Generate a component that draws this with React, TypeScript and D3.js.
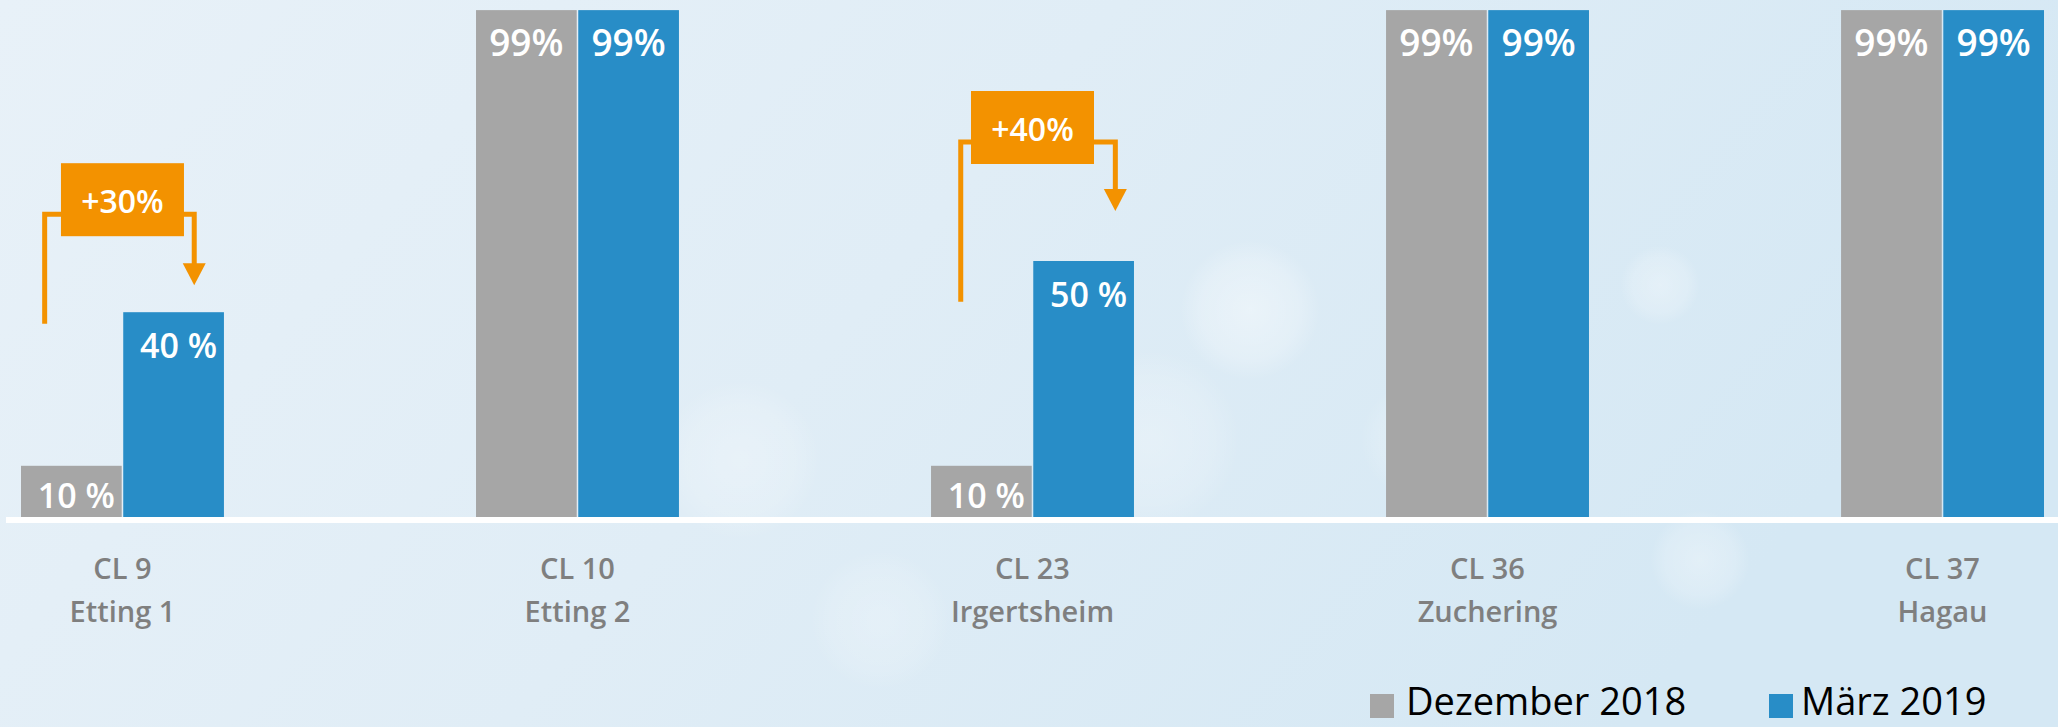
import React from "react";
import * as d3 from "d3";

const categories = ["CL 9", "CL 10", "CL 23", "CL 36", "CL 37"];
const places = ["Etting 1", "Etting 2", "Irgertsheim", "Zuchering", "Hagau"];
const seriesNames = ["Dezember 2018", "März 2019"];
const dec2018 = [10, 99, 10, 99, 99];
const mar2019 = [40, 99, 50, 99, 99];
const valueLabels2018 = ["10 %", "99%", "10 %", "99%", "99%"];
const valueLabels2019 = ["40 %", "99%", "50 %", "99%", "99%"];
// change callouts: category index, label
const callouts = [
  { cat: 0, label: "+30%" },
  { cat: 2, label: "+40%" },
];

const colors = ["#a6a6a6", "#288dc7"];
const orange = "#f39200";
const FONT = "'Open Sans', 'Noto Sans', sans-serif";

const W = 2058;
const H = 727;

// hand-tuned placement of the two callouts (px offsets, fractions of bar width)
const calloutLayout = [
  { lift: 149, lineGap: 142, tipGap: 27, lx: 0.235, ax: 0.705 },
  { lift: 170, lineGap: 164, tipGap: 50, lx: 0.295, ax: 0.815 },
];

const blobs = [
  { cx: 1250, cy: 310, r: 70, o: 0.45 },
  { cx: 1660, cy: 285, r: 40, o: 0.35 },
  { cx: 740, cy: 460, r: 80, o: 0.3 },
  { cx: 1150, cy: 440, r: 90, o: 0.3 },
  { cx: 1700, cy: 560, r: 50, o: 0.35 },
  { cx: 880, cy: 620, r: 70, o: 0.25 },
  { cx: 1420, cy: 440, r: 60, o: 0.25 },
  { cx: 1960, cy: 170, r: 60, o: 0.3 },
];

export default function App() {
  const x = d3
    .scaleBand<string>()
    .domain(categories)
    .range([21, 2044])
    .paddingInner(0.554)
    .paddingOuter(0);
  const xs = d3
    .scaleBand<string>()
    .domain(seriesNames)
    .range([0, x.bandwidth()])
    .paddingInner(0.015);
  const y = d3.scaleLinear().domain([0, 100]).range([517, 5]);
  const base = y(0);
  const bw = xs.bandwidth();

  const seriesData = [dec2018, mar2019];
  const seriesLabels = [valueLabels2018, valueLabels2019];

  return (
    <svg
      width={W}
      height={H}
      style={{ position: "absolute", left: 0, top: 0, fontFamily: FONT }}
    >
      <defs>
        <linearGradient id="bg" x1="0" y1="0" x2="1" y2="0.3">
          <stop offset="0" stopColor="#e8f1f8" />
          <stop offset="0.5" stopColor="#e0edf6" />
          <stop offset="1" stopColor="#d5e8f4" />
        </linearGradient>
        <radialGradient id="blob">
          <stop offset="0" stopColor="#ffffff" stopOpacity="0.9" />
          <stop offset="0.7" stopColor="#ffffff" stopOpacity="0.5" />
          <stop offset="1" stopColor="#ffffff" stopOpacity="0" />
        </radialGradient>
      </defs>
      <rect width={W} height={H} fill="url(#bg)" />
      {blobs.map((b, i) => (
        <circle key={i} cx={b.cx} cy={b.cy} r={b.r} fill="url(#blob)" opacity={b.o} />
      ))}

      {/* bars */}
      {categories.map((c, ci) =>
        seriesNames.map((s, si) => {
          const v = seriesData[si][ci];
          const bx = (x(c) ?? 0) + (xs(s) ?? 0);
          const top = y(v);
          const tyBase = Math.min(top + 46, base - 9);
          return (
            <g key={c + s}>
              <rect x={bx} y={top} width={bw} height={base - top} fill={colors[si]} />
              <text
                x={bx + bw / 2 + (v < 90 ? 5 : 0)}
                y={tyBase}
                textAnchor="middle"
                fill="#fff"
                fontWeight={600}
                fontSize={v < 90 ? 34 : 37}
              >
                {seriesLabels[si][ci]}
              </text>
            </g>
          );
        })
      )}

      {/* baseline */}
      <rect x={6} y={base} width={W - 6} height={6} fill="#ffffff" />

      {/* category labels */}
      {categories.map((c, ci) => {
        const cx = (x(c) ?? 0) + x.bandwidth() / 2;
        return (
          <text
            key={c}
            x={cx}
            textAnchor="middle"
            fill="#7f7f7f"
            fontWeight={600}
            fontSize={29}
          >
            <tspan x={cx} y={579}>{c}</tspan>
            <tspan x={cx} y={622}>{places[ci]}</tspan>
          </text>
        );
      })}

      {/* callouts */}
      {callouts.map((co, k) => {
        const L = calloutLayout[k];
        const c = categories[co.cat];
        const gx = x(c) ?? 0;
        const cx = gx + x.bandwidth() / 2;
        const toTop = y(mar2019[co.cat]);
        const fromTop = y(dec2018[co.cat]);
        const boxTop = toTop - L.lift;
        const boxW = 123;
        const boxH = 73;
        const bracketY = boxTop + 51;
        const lx = gx + (xs(seriesNames[0]) ?? 0) + bw * L.lx;
        const ax = gx + (xs(seriesNames[1]) ?? 0) + bw * L.ax;
        const tip = toTop - L.tipGap;
        const triH = 22;
        return (
          <g key={co.label}>
            <path
              d={`M${lx},${fromTop - L.lineGap} V${bracketY} H${cx} M${cx},${bracketY} H${ax} V${tip - triH + 1}`}
              fill="none"
              stroke={orange}
              strokeWidth={5}
            />
            <path
              d={`M${ax - 11.5},${tip - triH} L${ax + 11.5},${tip - triH} L${ax},${tip} Z`}
              fill={orange}
            />
            <rect x={cx - boxW / 2} y={boxTop} width={boxW} height={boxH} fill={orange} />
            <text
              x={cx}
              y={boxTop + 50}
              textAnchor="middle"
              fill="#fff"
              fontWeight={600}
              fontSize={32}
            >
              {co.label}
            </text>
          </g>
        );
      })}

      {/* legend */}
      <g>
        <rect x={1370} y={694} width={24} height={24} fill={colors[0]} />
        <text x={1406} y={715} fontSize={38} fill="#000">{seriesNames[0]}</text>
        <rect x={1769} y={694} width={24} height={24} fill={colors[1]} />
        <text x={1801} y={715} fontSize={38} fill="#000">{seriesNames[1]}</text>
      </g>
    </svg>
  );
}
